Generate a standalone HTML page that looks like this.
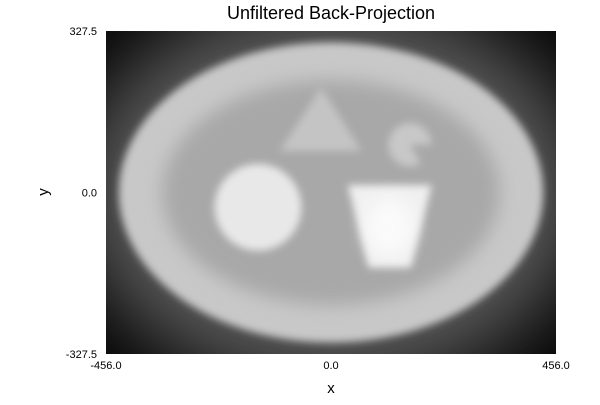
<!DOCTYPE html>
<html><head><meta charset="utf-8"><style>
body{margin:0;background:#fff;font-family:"Liberation Sans","DejaVu Sans",sans-serif}
svg text{font-family:"Liberation Sans","DejaVu Sans",sans-serif}
</style></head><body>
<svg id="c" width="600" height="400" viewBox="0 0 600 400">
<defs>
<filter id="b1" x="-50%" y="-50%" width="200%" height="200%"><feGaussianBlur stdDeviation="4"/></filter>
<filter id="b2" x="-50%" y="-50%" width="200%" height="200%"><feGaussianBlur stdDeviation="9"/></filter>
<filter id="b3" x="-50%" y="-50%" width="200%" height="200%"><feGaussianBlur stdDeviation="45"/></filter>
<clipPath id="pc"><rect x="106" y="31" width="450" height="323"/></clipPath>
</defs>
<g id="plot" clip-path="url(#pc)"></g>
<text x="331" y="19" font-size="18" text-anchor="middle">Unfiltered Back-Projection</text>
<text x="331" y="393" font-size="15" text-anchor="middle">x</text>
<text x="48" y="192" font-size="15" text-anchor="middle" transform="rotate(-90 48 192)">y</text>
<g id="ticks"></g>
</svg>
<script>
const xTicks=[-456,0,456];
const xTickLabels=["-456.0","0.0","456.0"];
const yTicks=[327.5,0,-327.5];
const yTickLabels=["327.5","0.0","-327.5"];
// phantom ellipses: cx, cy, rx, ry, gray level (0-255)
const ellCx=[0,0,0,-148,0];
const ellCy=[0,0,0,-30,0];
const ellRx=[520,430,342,88,0];
const ellRy=[400,304,228,88,0];
const ellGray=[95,200,168,232,0];
const smallCx=[160]; const smallCy=[97]; const smallR=[44]; const smallGray=[200];
const triX=[-20,-104,62]; const triY=[213,84,84]; const triGray=196;
const trapX=[34,204,162,76]; const trapY=[15,15,-152,-152]; const trapGray=240;

const X=v=>331+(v/456)*225, Y=v=>192.5-(v/327.5)*161.5, S=v=>v*225/456;
const NS="http://www.w3.org/2000/svg";
const plot=document.getElementById('plot');
function mk(t,a,p){const e=document.createElementNS(NS,t);for(const k in a)e.setAttribute(k,a[k]);(p||plot).appendChild(e);return e;}
const g=v=>`rgb(${v},${v},${v})`;
const bg=mk('rect',{x:106,y:31,width:450,height:323,fill:'#000'});


const filt=['b3','b1','b2','b1'];
for(let i=0;i<4;i++){
 const e=mk('ellipse',{cx:X(ellCx[i]),cy:Y(ellCy[i]),rx:S(ellRx[i]),ry:S(ellRy[i]),fill:g(ellGray[i]),filter:`url(#${filt[i]})`});
 
 
}
for(let i=0;i<smallCx.length;i++){
 const cx=X(smallCx[i]),cy=Y(smallCy[i]),r=S(smallR[i]);
 const d=`M${cx},${cy} L${cx+r},${cy} A${r},${r} 0 1 0 ${cx+r*0.5},${cy+r*0.87} Z`;
 const e=mk('path',{d:d,fill:g(smallGray[i]),filter:'url(#b1)'});
 
 
}
const tri=mk('polygon',{points:triX.map((v,i)=>X(v)+','+Y(triY[i])).join(' '),fill:g(triGray),filter:'url(#b1)'});


const trap=mk('polygon',{points:trapX.map((v,i)=>X(v)+','+Y(trapY[i])).join(' '),fill:g(trapGray),filter:'url(#b1)'});


const hl=mk('ellipse',{cx:X(118),cy:Y(-70),rx:S(50),ry:S(60),fill:'#fff',opacity:0.7,filter:'url(#b2)'});


const tk=document.getElementById('ticks');
xTicks.forEach((v,i)=>{const t=mk('text',{x:X(v),y:369,'font-size':11,'text-anchor':'middle'},tk);t.textContent=xTickLabels[i];
 
 });
yTicks.forEach((v,i)=>{const t=mk('text',{x:97,y:Y(v)+4,'font-size':11,'text-anchor':'end'},tk);t.textContent=yTickLabels[i];
 
 });
</script>
</body></html>
